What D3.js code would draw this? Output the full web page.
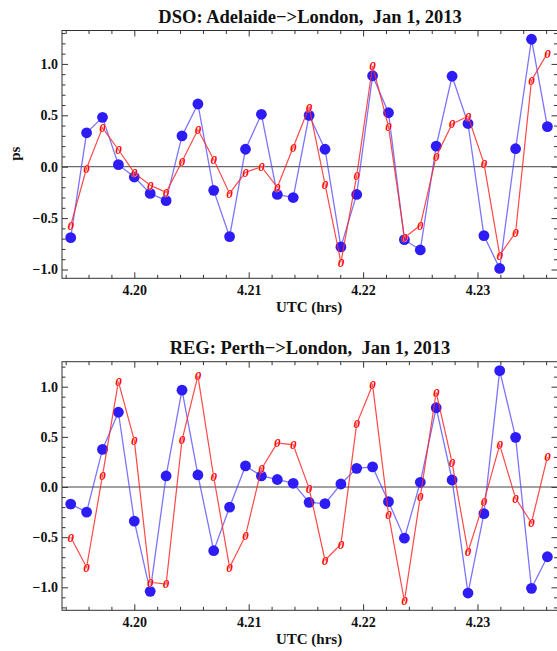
<!DOCTYPE html>
<html>
<head>
<meta charset="utf-8">
<script src="https://cdn.jsdelivr.net/npm/d3@7"></script>
<style>
  html, body { margin: 0; padding: 0; background: #fff; }
  svg { display: block; }
  text { font-family: "Liberation Serif", "Times New Roman", serif; font-weight: bold; }
  .title { white-space: pre; }
</style>
</head>
<body>
<svg id="chart" width="557" height="651"></svg>
<script>
// ---- data ----
const utcHours = [4.19444, 4.19583, 4.19722, 4.19861, 4.20000, 4.20139, 4.20278, 4.20417,
  4.20556, 4.20694, 4.20833, 4.20972, 4.21111, 4.21250, 4.21389, 4.21528, 4.21667, 4.21806,
  4.21944, 4.22083, 4.22222, 4.22361, 4.22500, 4.22639, 4.22778, 4.22917, 4.23056, 4.23194,
  4.23333, 4.23472, 4.23611];

const dsoBlue = [-0.69, 0.33, 0.48, 0.02, -0.10, -0.26, -0.33, 0.30, 0.61, -0.23, -0.68, 0.17,
  0.51, -0.27, -0.30, 0.50, 0.17, -0.78, -0.27, 0.885, 0.525, -0.71, -0.81, 0.20, 0.88, 0.42,
  -0.67, -0.99, 0.175, 1.24, 0.39];
const dsoRed = [-0.57, -0.015, 0.38, 0.165, -0.06, -0.18, -0.25, 0.05, 0.36, 0.07, -0.26, -0.055,
  0.0, -0.20, 0.19, 0.58, -0.17, -0.93, -0.09, 0.98, 0.39, -0.69, -0.57, 0.10, 0.415, 0.49,
  0.035, -0.86, -0.64, 0.84, 1.105];

const regBlue = [-0.17, -0.25, 0.375, 0.745, -0.34, -1.04, 0.11, 0.965, 0.12, -0.635, -0.20, 0.21,
  0.11, 0.075, 0.037, -0.153, -0.166, 0.03, 0.186, 0.20, -0.146, -0.51, 0.047, 0.79, 0.07,
  -1.057, -0.266, 1.16, 0.495, -1.01, -0.695];
const regRed = [-0.50, -0.80, 0.113, 1.05, 0.465, -0.95, -0.967, 0.468, 1.107, 0.10, -0.80, -0.485,
  0.18, 0.44, 0.42, -0.013, -0.73, -0.57, 0.63, 1.017, -0.27, -1.137, -0.097, 0.944, 0.242,
  -0.645, -0.146, 0.42, -0.113, -0.356, 0.30];

const xMajorTicks = [4.20, 4.21, 4.22, 4.23];
const yMajorTicks = [-1.0, -0.5, 0.0, 0.5, 1.0];
const titles = ["DSO: Adelaide\u2212>London,  Jan 1, 2013", "REG: Perth\u2212>London,  Jan 1, 2013"];
const xLabel = "UTC (hrs)";
const yLabel = "ps";

// ---- layout ----
const svg = d3.select("#chart");
svg.append("rect").attr("width", 557).attr("height", 651).attr("fill", "#fff");

const plotLeft = 62, plotRight = 557.5;
const xDomain = [4.19368, 4.236993];

const panels = [
  { title: titles[0], blue: dsoBlue, red: dsoRed, top: 30.5, bottom: 278.3, yDomain: [-1.0856, 1.325], showY: true },
  { title: titles[1], blue: regBlue, red: regRed, top: 361.7, bottom: 610.3, yDomain: [-1.229, 1.249], showY: false }
];

const x = d3.scaleLinear().domain(xDomain).range([plotLeft, plotRight]);

const xMinor = d3.range(4.194, 4.2371, 0.002).map(v => +v.toFixed(3)).filter(v => !xMajorTicks.some(m => Math.abs(m - v) < 1e-6));
const yMinorAll = d3.range(-1.2, 1.31, 0.1).map(v => +v.toFixed(1)).filter(v => !yMajorTicks.some(m => Math.abs(m - v) < 1e-6));

const frameColor = "#333";
const blueLine = "rgba(80,70,255,0.75)";
const blueDot = "#2d1cf6";
const redLine = "rgba(255,40,40,0.85)";
const redMark = "#ff0000";

panels.forEach(p => {
  const y = d3.scaleLinear().domain(p.yDomain).range([p.bottom, p.top]);
  const g = svg.append("g");
  const yMinor = yMinorAll.filter(v => v >= p.yDomain[0] && v <= p.yDomain[1]);

  // title
  g.append("text").attr("class", "title").attr("xml:space", "preserve")
    .attr("x", 310).attr("y", p.top - 7.5)
    .attr("text-anchor", "middle").attr("font-size", 18.5).attr("fill", "#111")
    .text(p.title);

  // axes
  const styleAxis = sel => {
    sel.select(".domain").remove();
    sel.selectAll("line").attr("stroke", frameColor).attr("stroke-width", 1);
    sel.selectAll("text").attr("font-family", "'Liberation Serif', 'Times New Roman', serif")
      .attr("font-weight", "bold").attr("font-size", 14).attr("fill", "#111");
  };
  const fmtX = d3.format(".2f");
  const fmtY = d3.format(".1f");

  g.append("g").attr("transform", `translate(0,${p.bottom})`)
    .call(d3.axisBottom(x).tickValues(xMajorTicks).tickSize(-6).tickPadding(7).tickFormat(fmtX)).call(styleAxis);
  g.append("g").attr("transform", `translate(0,${p.bottom})`)
    .call(d3.axisBottom(x).tickValues(xMinor).tickSize(-3.5).tickFormat("")).call(styleAxis);
  g.append("g").attr("transform", `translate(0,${p.top})`)
    .call(d3.axisTop(x).tickValues(xMajorTicks).tickSize(-6).tickFormat("")).call(styleAxis);
  g.append("g").attr("transform", `translate(0,${p.top})`)
    .call(d3.axisTop(x).tickValues(xMinor).tickSize(-3.5).tickFormat("")).call(styleAxis);

  g.append("g").attr("transform", `translate(${plotLeft},0)`)
    .call(d3.axisLeft(y).tickValues(yMajorTicks).tickSize(-6).tickPadding(4).tickFormat(fmtY)).call(styleAxis);
  g.append("g").attr("transform", `translate(${plotLeft},0)`)
    .call(d3.axisLeft(y).tickValues(yMinor).tickSize(-3.5).tickFormat("")).call(styleAxis);
  g.append("g").attr("transform", `translate(${plotRight},0)`)
    .call(d3.axisRight(y).tickValues(yMajorTicks).tickSize(-6).tickFormat("")).call(styleAxis);
  g.append("g").attr("transform", `translate(${plotRight},0)`)
    .call(d3.axisRight(y).tickValues(yMinor).tickSize(-3.5).tickFormat("")).call(styleAxis);

  // frame
  g.append("rect").attr("x", plotLeft).attr("y", p.top)
    .attr("width", plotRight - plotLeft).attr("height", p.bottom - p.top)
    .attr("fill", "none").attr("stroke", frameColor).attr("stroke-width", 1);

  // zero line
  g.append("line").attr("x1", plotLeft).attr("x2", plotRight)
    .attr("y1", y(0)).attr("y2", y(0)).attr("stroke", "#444").attr("stroke-width", 1);

  // x label
  g.append("text").attr("x", 309).attr("y", p.bottom + 34).attr("text-anchor", "middle")
    .attr("font-size", 15).attr("fill", "#111").text(xLabel);

  if (p.showY) {
    g.append("text").attr("transform", `translate(20,${y(0) - 13}) rotate(-90)`)
      .attr("text-anchor", "middle").attr("font-size", 15).attr("fill", "#111").text(yLabel);
  }

  const plotG = g.append("g");
  const line = d3.line().x((d, i) => x(utcHours[i])).y(d => y(d));

  // blue series
  plotG.append("path").datum(p.blue).attr("d", line)
    .attr("fill", "none").attr("stroke", blueLine).attr("stroke-width", 1.3);
  plotG.selectAll("circle.b").data(p.blue).enter().append("circle")
    .attr("cx", (d, i) => x(utcHours[i])).attr("cy", d => y(d)).attr("r", 5.4)
    .attr("fill", blueDot);

  // red series
  plotG.append("path").datum(p.red).attr("d", line)
    .attr("fill", "none").attr("stroke", redLine).attr("stroke-width", 1.2);
  plotG.selectAll("text.r").data(p.red).enter().append("text")
    .attr("x", (d, i) => x(utcHours[i])).attr("y", d => y(d))
    .attr("dy", "0.34em").attr("text-anchor", "middle")
    .attr("font-size", 13).attr("font-style", "italic").attr("font-weight", "bold")
    .attr("fill", redMark).attr("stroke", "#fff").attr("stroke-width", 0.5)
    .attr("paint-order", "stroke")
    .text("0");
});
</script>
</body>
</html>
